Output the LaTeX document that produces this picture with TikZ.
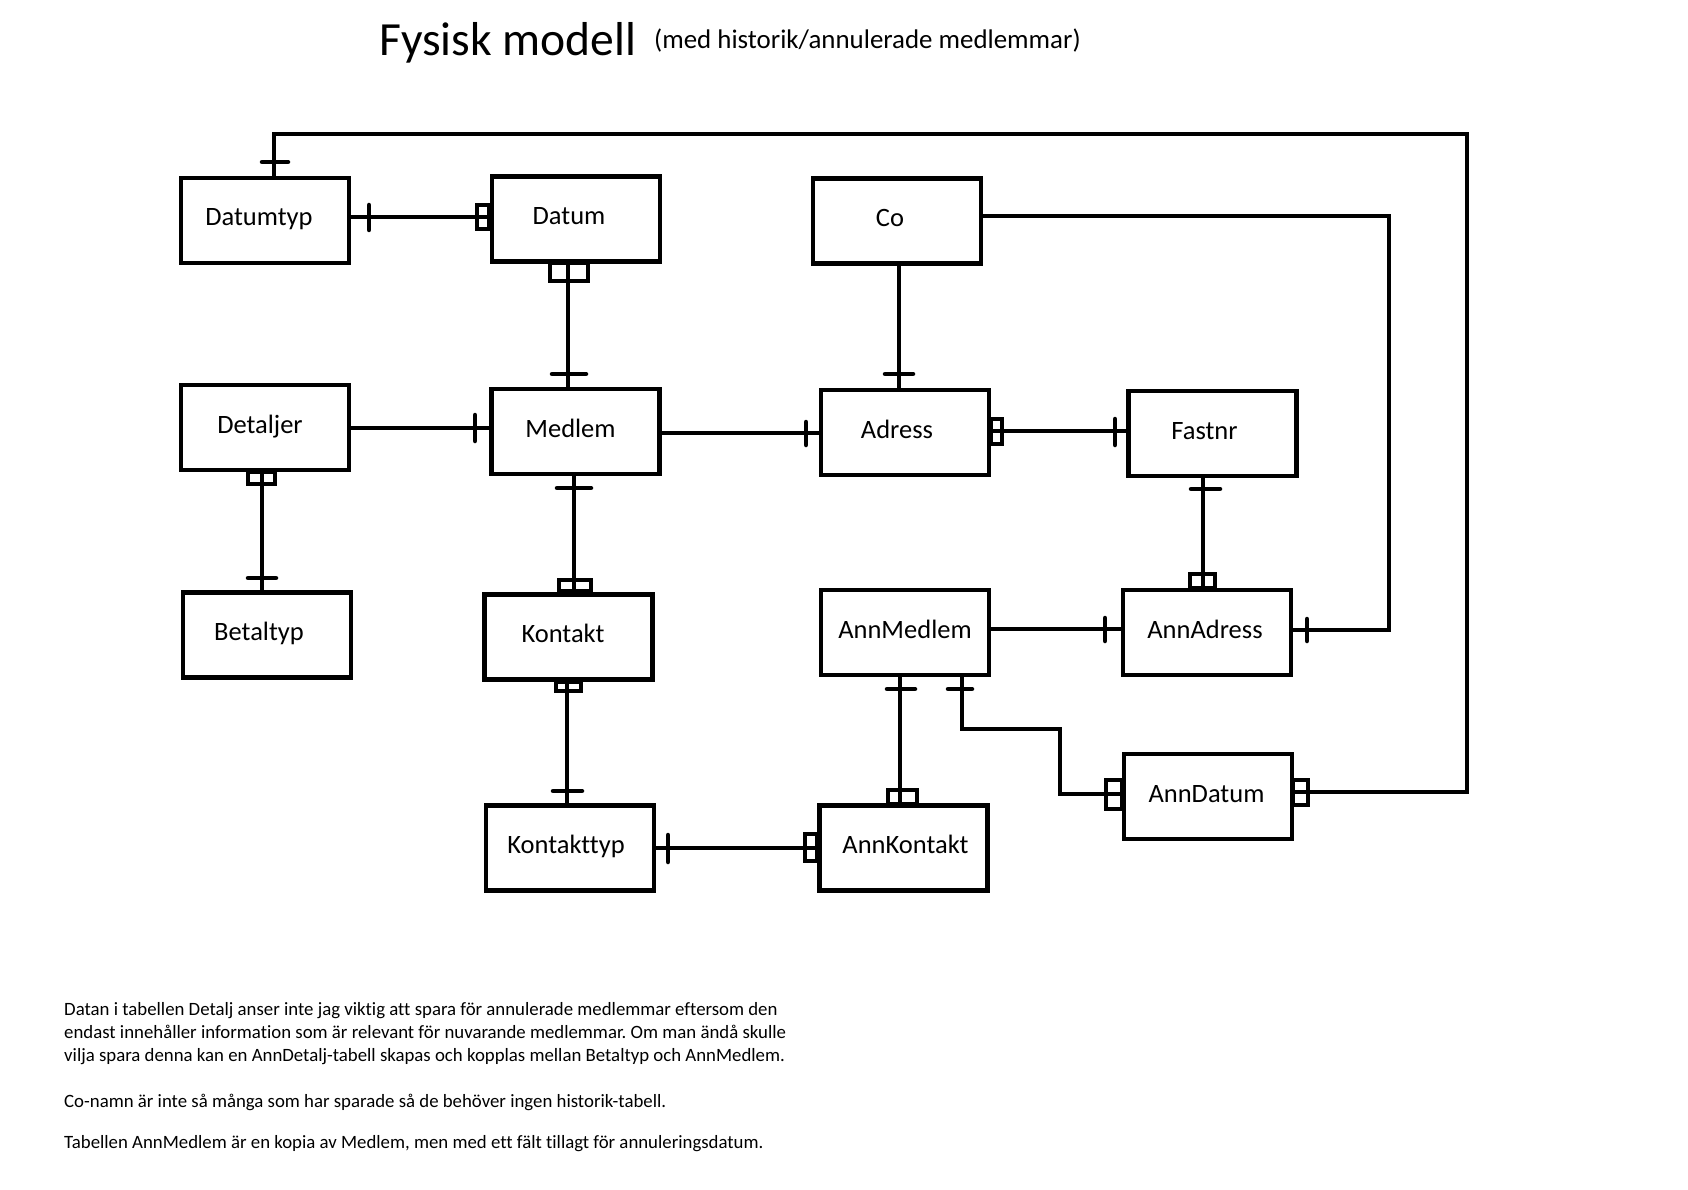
\documentclass[tikz,border=0pt]{standalone}
\usepackage{fontspec}
\setmainfont{Carlito}[Ligatures={TeX,NoCommon}]
\frenchspacing
\newcommand\mytkv[3]{\draw[tk] (#1,#2) -- (#1,#3);}
\newcommand\mytkh[3]{\draw[tk] (#2,#1) -- (#3,#1);}
\begin{document}
\begin{tikzpicture}[x=1pt,y=-1pt,
  ent/.style={draw,line width=4.6pt,minimum width=168pt,minimum height=85pt,inner sep=0pt,
              text height=19pt,text depth=8pt,font=\fontsize{26.5}{30}\selectfont},
  sh/.style={execute at begin node={\hspace*{#1pt}}},
  conn/.style={line width=4.5pt},
  tk/.style={line width=4.5pt,line cap=round},
  bx/.style={line width=4.3pt},
  note/.style={anchor=base west,inner sep=0pt,font=\fontsize{18.8}{22}\selectfont}]
\useasboundingbox (0,0) rectangle (1688,1190);

% titles
\node[anchor=base west,inner sep=0pt,font=\fontsize{47.6}{56}\selectfont] (title) at (379,56) {Fysisk modell};
\node[anchor=base west,inner sep=0pt,font=\fontsize{26.9}{32}\selectfont] (subtitle) at (654,49) {(med historik/annulerade medlemmar)};

% entities
\node[ent,sh=-12] (datumtyp) at (265,220.5) {Datumtyp};
\node[ent,sh=-14] (datum) at (576,219) {Datum};
\node[ent,sh=-14] (co) at (897,221) {Co};
\node[ent,sh=-10] (detaljer) at (265,427.5) {Detaljer};
\node[ent,sh=-10] (medlem) at (575.5,431.5) {Medlem};
\node[ent,sh=-16] (adress) at (905,432.5) {Adress};
\node[ent,sh=-16] (fastnr) at (1212.5,433.5) {Fastnr};
\node[ent,sh=-16] (betaltyp) at (267,635) {Betaltyp};
\node[ent,sh=-11] (kontakt) at (568.5,637) {Kontakt};
\node[ent,sh=0] (annmedlem) at (905,632.5) {AnnMedlem};
\node[ent,sh=-4] (annadress) at (1207,632.5) {AnnAdress};
\node[ent,sh=-3] (anndatum) at (1208,796.5) {AnnDatum};
\node[ent,sh=-8] (kontakttyp) at (570,848) {Kontakttyp};
\node[ent,sh=4] (annkontakt) at (903.5,848) {AnnKontakt};

% connectors
\draw[conn] (datumtyp.east |- 0,217) -- (datum.west |- 0,217);
\draw[conn] (datum.south -| 568,0) -- (medlem.north -| 568,0);
\draw[conn] (co.south -| 899,0) -- (adress.north -| 899,0);
\draw[conn] (co.east |- 0,216) -| (1389,630) -- (annadress.east |- 0,630);
\draw[conn] (datumtyp.north -| 274,0) -- (274,134) -| (1467,792) -- (anndatum.east |- 0,792);
\draw[conn] (detaljer.east |- 0,428) -- (medlem.west |- 0,428);
\draw[conn] (detaljer.south -| 262,0) -- (betaltyp.north -| 262,0);
\draw[conn] (medlem.east |- 0,433) -- (adress.west |- 0,433);
\draw[conn] (medlem.south -| 574,0) -- (kontakt.north -| 574,0);
\draw[conn] (adress.east |- 0,431) -- (fastnr.west |- 0,431);
\draw[conn] (fastnr.south -| 1203,0) -- (annadress.north -| 1203,0);
\draw[conn] (annmedlem.east |- 0,629) -- (annadress.west |- 0,629);
\draw[conn] (kontakt.south -| 567,0) -- (kontakttyp.north -| 567,0);
\draw[conn] (kontakttyp.east |- 0,848) -- (annkontakt.west |- 0,848);
\draw[conn] (annmedlem.south -| 900,0) -- (annkontakt.north -| 900,0);
\draw[conn] (annmedlem.south -| 962,0) -- (962,729) -| (1060,794) -- (anndatum.west |- 0,794);

% "one" ticks on horizontal connectors
\mytkv{369}{205}{230}
\mytkv{475}{415}{441}
\mytkv{806}{422}{445}
\mytkv{1115}{419}{445}
\mytkv{1105}{618}{641}
\mytkv{1307}{619}{641}
\mytkv{668}{835}{862}
% "one" ticks on vertical connectors
\mytkh{162}{262}{288}
\mytkh{374}{552}{586}
\mytkh{374}{885}{913}
\mytkh{488}{557}{591}
\mytkh{578}{248}{276}
\mytkh{489}{1191}{1220}
\mytkh{689}{887}{915}
\mytkh{689}{948}{972}
\mytkh{791}{553}{582}

% box symbols
\draw[bx] (477,205) rectangle (489,229);
\draw[bx] (550,263) rectangle (588,281);
\draw[bx] (248,472) rectangle (275,484);
\draw[bx] (559,580) rectangle (591,591);
\draw[bx] (991,419) rectangle (1002,444);
\draw[bx] (1190,574) rectangle (1215,588);
\draw[bx] (556,682) rectangle (581,691);
\draw[bx] (888,790) rectangle (917,804);
\draw[bx] (805,834) rectangle (817,861);
\draw[bx] (1106,780) rectangle (1122,809);
\draw[bx] (1293,780) rectangle (1308,805);

% notes
\node[note] (n1) at (64,1015) {Datan i tabellen Detalj anser inte jag viktig att spara för annulerade medlemmar eftersom den};
\node[note] (n2) at (64,1038) {endast innehåller information som är relevant för nuvarande medlemmar. Om man ändå skulle};
\node[note] (n3) at (64,1061) {vilja spara denna kan en AnnDetalj-tabell skapas och kopplas mellan Betaltyp och AnnMedlem.};
\node[note] (n4) at (64,1107) {Co-namn är inte så många som har sparade så de behöver ingen historik-tabell.};
\node[note] (n5) at (64,1148) {Tabellen AnnMedlem är en kopia av Medlem, men med ett fält tillagt för annuleringsdatum.};
\end{tikzpicture}
\end{document}
